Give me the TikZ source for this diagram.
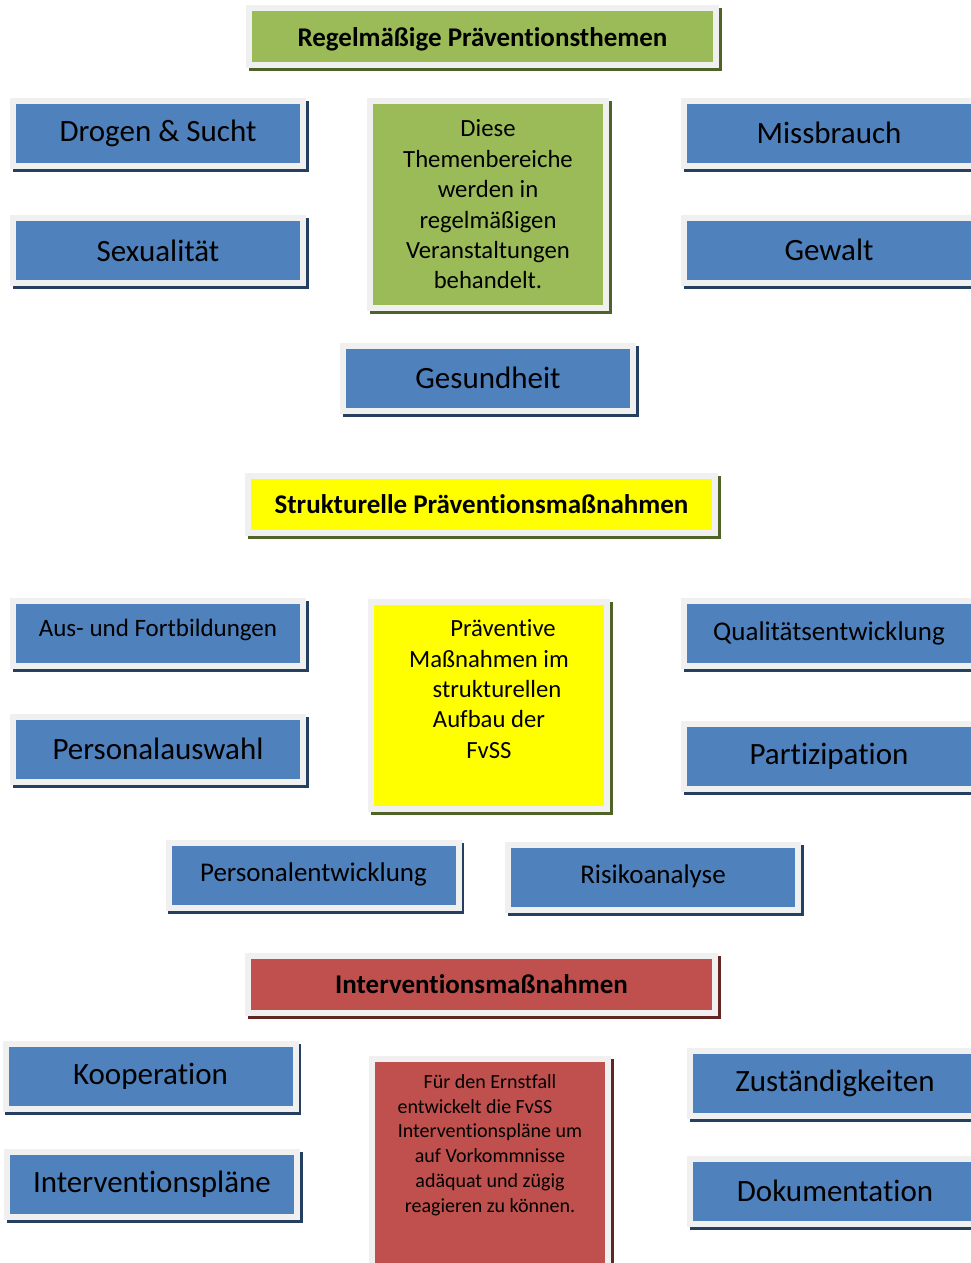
\documentclass[tikz,border=0pt]{standalone}
\usepackage{fontspec}
\setmainfont{Carlito}[Ligatures=NoCommon]
\usetikzlibrary{shadows}

\definecolor{rahmen}{HTML}{F0F0F0}
\definecolor{blau}{HTML}{4F81BD}
\definecolor{blaudunkel}{HTML}{243F60}
\definecolor{gruen}{HTML}{9BBB59}
\definecolor{gruendunkel}{HTML}{4F6228}
\definecolor{gelb}{HTML}{FFFF00}
\definecolor{rot}{HTML}{C0504D}
\definecolor{rotdunkel}{HTML}{632523}

\newcommand{\heben}[2]{\raisebox{#1}[\height][\depth]{#2}}

\tikzset{
  tafel/.style={draw=rahmen, line width=6pt, inner sep=0pt, text=black,
    general shadow={draw=#1, fill=#1, line width=6pt, shadow xshift=2.5pt, shadow yshift=-3pt}},
  blaubox/.style={tafel=blaudunkel, fill=blau, minimum width=290, minimum height=65},
  gross/.style={font=\fontsize{31}{37}\selectfont},
  mittel/.style={font=\fontsize{27}{32}\selectfont},
  titel/.style={minimum width=467, minimum height=57, font=\bfseries\fontsize{27}{32}\selectfont},
  textfeld/.style={minimum width=236, minimum height=207},
  fliesstext/.style={align=center, font=\fontsize{24.7}{30.4}\selectfont},
}

\begin{document}
\begin{tikzpicture}[x=1pt, y=-1pt]
    \useasboundingbox (0,0) rectangle (971,1263);
    \clip (0,0) rectangle (971,1263);

    % Regelmaessige Themen
    \node[tafel=gruendunkel, fill=gruen, titel] (regel) at (482.5,36.5) {\heben{-2.5pt}{Regelmäßige Präventionsthemen}};
    \node[blaubox, gross] (drogen) at (158,133.5) {Drogen \& Sucht};
    \node[blaubox, gross] (sexualitaet) at (158,250.5) {Sexualität};
    \node[blaubox, gross] (missbrauch) at (829,133.5) {\heben{1pt}{Missbrauch}};
    \node[blaubox, gross] (gewalt) at (829,250) {Gewalt};
    \node[tafel=gruendunkel, fill=gruen, textfeld, fliesstext] (themen) at (488,204.5)
        {Diese\\Themenbereiche\\werden in\\regelmäßigen\\Veranstaltungen\\behandelt.};
    \node[blaubox, gross] (gesundheit) at (488,378) {Gesundheit};

    % Strukturelle Massnahmen
    \node[tafel=gruendunkel, fill=gelb, titel] (struktur) at (481.5,504) {Strukturelle Präventionsmaßnahmen};
    \node[blaubox, font=\fontsize{25}{30}\selectfont] (fortbildung) at (158,633) {\heben{3pt}{Aus- und Fortbildungen}};
    \node[blaubox, gross] (auswahl) at (158,749) {Personalauswahl};
    \node[blaubox, mittel] (qualitaet) at (829,633.5) {Qualitätsentwicklung};
    \node[blaubox, gross] (partizipation) at (829,756.5) {Partizipation};
    \node[tafel=gruendunkel, fill=gelb, textfeld] (praevbox) at (489,705.5) {};
    \node[fliesstext] (praevtext) at (489,689)
        {\hspace*{28pt}Präventive\\Maßnahmen im\\\hspace*{16pt}strukturellen\\Aufbau der\\FvSS};
    \node[blaubox, mittel] (entwicklung) at (313.5,875.5) {\heben{1pt}{Personalentwicklung}};
    \node[blaubox, mittel] (risiko) at (653,877.5) {\heben{1pt}{Risikoanalyse}};

    % Intervention
    \node[tafel=rotdunkel, fill=rot, titel] (intervention) at (481.5,984.5) {Interventionsmaßnahmen};
    \node[blaubox, gross] (kooperation) at (150.5,1076.5) {Kooperation};
    \node[blaubox, gross] (plaene) at (152,1184.5) {Interventionspläne};
    \node[blaubox, gross] (zustaendig) at (835,1083) {Zuständigkeiten};
    \node[blaubox, gross] (doku) at (835,1191.5) {\heben{1pt}{Dokumentation}};
    \node[tafel=rotdunkel, fill=rot, minimum width=236, minimum height=231] (ernstbox) at (490,1174.5) {};
    \node[align=center, font=\fontsize{20}{24.8}\selectfont] (ernsttext) at (490,1145)
        {Für den Ernstfall\\entwickelt die FvSS\rule{30pt}{0pt}\\Interventionspläne um\\auf Vorkommnisse\\adäquat und zügig\\reagieren zu können.};
\end{tikzpicture}
\end{document}
